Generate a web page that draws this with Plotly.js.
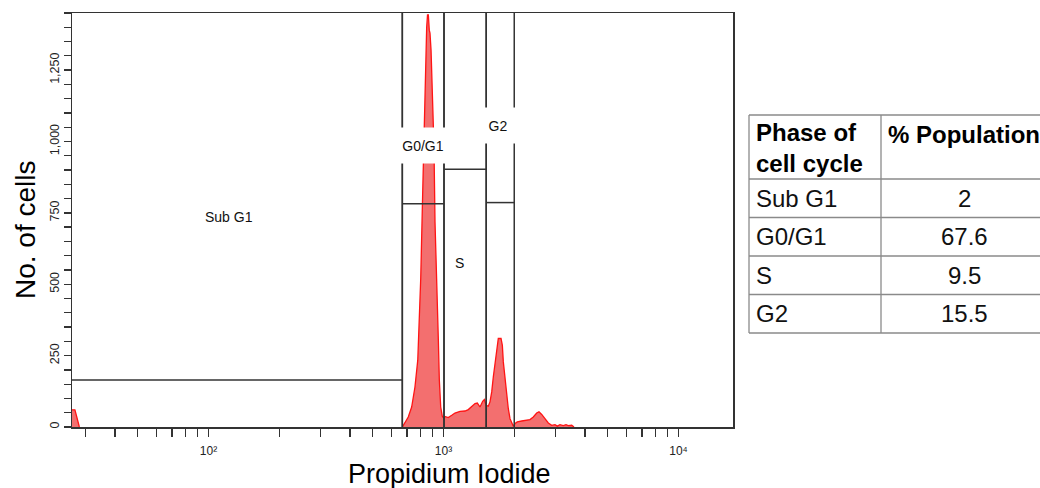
<!DOCTYPE html>
<html>
<head>
<meta charset="utf-8">
<script src="https://cdn.plot.ly/plotly-3.0.1.min.js"></script>
<style>html,body{margin:0;padding:0;background:#fff;}#chart{width:1040px;height:488px;}</style>
</head>
<body>
<div id="chart"></div>
<script>
// ---- Histogram data (Propidium Iodide intensity vs. number of cells) ----
// debris at the far left (sub G1 region)
const debrisIntensity = [26.0, 27.0, 27.5, 27.9, 28.2];
const debrisCounts    = [60, 60, 35, 13, 0];
// main cell population
const piIntensity = [668, 686, 708, 732, 756, 777, 787, 800, 816, 820, 828, 840, 848, 855, 862, 870, 876, 885, 891, 896, 905, 911, 920, 929, 936, 950, 960, 973, 988, 1005,
  1015, 1048, 1084, 1119, 1176, 1235, 1275, 1318, 1362, 1393, 1430, 1468, 1492, 1517, 1551, 1577, 1604, 1629, 1657, 1685, 1711, 1757, 1780, 1797, 1827, 1858, 1887, 1919, 1951, 1982,
  2016, 2061, 2152, 2259, 2334, 2411, 2492, 2549, 2618, 2703, 2793, 2887, 2982, 3050, 3131, 3234, 3321, 3397, 3512, 3592];
const cellCounts = [0, 17, 35, 70, 140, 234, 339, 520, 829, 900, 1092, 1320, 1400, 1443, 1443, 1390, 1380, 1320, 1239, 1227, 1064, 980, 720, 560, 468, 315, 164, 70, 38, 30,
  37, 33, 41, 49, 55, 56, 61, 70, 82, 84, 70, 90, 96, 76, 73, 88, 123, 175, 222, 280, 310, 310, 286, 228, 164, 105, 64, 29, 12, 3,
  12, 18, 21, 23, 26, 35, 49, 53, 44, 29, 14, 6, 8, 3, 8, 5, 8, 5, 6, 0];

// ---- Gates ----
const gateNames  = ['Sub G1', 'G0/G1', 'S', 'G2'];
const gateLow    = [20, 668, 1005, 1520];
const gateHigh   = [668, 1005, 1520, 2000];
const gateLevel  = [165, 782, 903, 786];
const gateLabelX = [122, 818, 1170, 1700];
const gateLabelY = [736, 985, 574, 1055];
const gateLabelBox = [null, [54, 35], null, [40, 35]];

// ---- Axis ticks ----
const yMajorValues = [0, 250, 500, 750, 1000, 1250];
const yMajorLabels = ['0', '250', '500', '750', '1,000', '1,250'];
const xMajorValues = [100, 1000, 10000];
const xMajorLabels = ['10\u00B2', '10\u00B3', '10\u2074'];
const yMax = 1450;
const xRangeLog = [1.419, 4.232];

// ---- Table ----
const tableHeaders = ['Phase of<br>cell cycle', '% Population'];
const phaseNames = ['Sub G1', 'G0/G1', 'S', 'G2'];
const phasePercents = ['2', '67.6', '9.5', '15.5'];

// ---- minor ticks (unlabelled) ----
const yMinorVals = [];
for (let v = 0; v <= yMax; v += 50) if (yMajorValues.indexOf(v) < 0) yMinorVals.push(v);
const xMinorVals = [];
for (let e = 1; e <= 4; e++) {
  for (let m = 2; m <= 9; m++) {
    const v = m * Math.pow(10, e);
    if (v < 17000) xMinorVals.push(v);
  }
}

// ---- gate line segments ----
const gx = [], gy = [];
gateNames.forEach((n, i) => {
  gx.push(gateLow[i], gateLow[i], null, gateHigh[i], gateHigh[i], null, gateLow[i], gateHigh[i], null);
  gy.push(0, yMax, null, 0, yMax, null, gateLevel[i], gateLevel[i], null);
});

const W = 1040, H = 488;
const px = v => v / W, py = v => 1 - v / H;
const font = 'Liberation Sans, Arial, sans-serif';

const histStyle = {
  type: 'scatter', mode: 'lines', fill: 'tozeroy', fillcolor: 'rgba(240,70,70,0.78)',
  line: {color: 'rgb(255,20,20)', width: 1.3}, hoverinfo: 'x+y', showlegend: false
};
const traces = [
  Object.assign({}, histStyle, {x: debrisIntensity, y: debrisCounts}),
  Object.assign({}, histStyle, {x: piIntensity, y: cellCounts}),
  {
    type: 'scatter', mode: 'lines', x: gx, y: gy,
    line: {color: '#333', width: 1.5}, hoverinfo: 'skip', showlegend: false
  }
];

const annotations = [];
gateNames.forEach((n, i) => {
  const a = {
    xref: 'x', yref: 'y', x: Math.log10(gateLabelX[i]), y: gateLabelY[i],
    text: n, showarrow: false, font: {family: font, size: 14, color: '#111'},
    xanchor: 'center', yanchor: 'middle'
  };
  if (gateLabelBox[i]) {
    a.bgcolor = '#fff'; a.width = gateLabelBox[i][0]; a.height = gateLabelBox[i][1]; a.borderpad = 0;
  }
  annotations.push(a);
});

// axis titles
annotations.push({xref: 'paper', yref: 'paper', x: px(25), y: py(230), text: 'No. of cells', textangle: -90,
  showarrow: false, font: {family: font, size: 28, color: '#000'}, xanchor: 'center', yanchor: 'middle'});
annotations.push({xref: 'paper', yref: 'paper', x: px(449), y: py(474), text: 'Propidium Iodide',
  showarrow: false, font: {family: font, size: 27, color: '#000'}, xanchor: 'center', yanchor: 'middle'});

// table
const tLeft = 749, tDiv = 881, tRight = 1050, tTop = 115, tHeadBottom = 179, rowH = 38.5;
const shapes = [];
const lineStyle = {color: '#8a8a8a', width: 1.3};
const hLines = [tTop, tHeadBottom];
phaseNames.forEach((n, i) => hLines.push(tHeadBottom + rowH * (i + 1)));
const tBottom = hLines[hLines.length - 1];
hLines.forEach(yv => shapes.push({type: 'line', xref: 'paper', yref: 'paper', x0: px(tLeft), x1: px(tRight), y0: py(yv), y1: py(yv), line: lineStyle}));
[tLeft, tDiv].forEach(xv => shapes.push({type: 'line', xref: 'paper', yref: 'paper', x0: px(xv), x1: px(xv), y0: py(tTop), y1: py(tBottom), line: lineStyle}));

const tFont = 24;
annotations.push({xref: 'paper', yref: 'paper', x: px(tLeft + 5), y: py(148), text: '<b>' + tableHeaders[0] + '</b>',
  showarrow: false, align: 'left', xanchor: 'left', yanchor: 'middle', font: {family: font, size: tFont, color: '#000'}});
annotations.push({xref: 'paper', yref: 'paper', x: px(tDiv + 5), y: py(134), text: '<b>' + tableHeaders[1] + '</b>',
  showarrow: false, align: 'left', xanchor: 'left', yanchor: 'middle', font: {family: font, size: tFont, color: '#000'}});
phaseNames.forEach((n, i) => {
  const yc = tHeadBottom + rowH * (i + 0.5);
  annotations.push({xref: 'paper', yref: 'paper', x: px(tLeft + 5), y: py(yc), text: n,
    showarrow: false, xanchor: 'left', yanchor: 'middle', font: {family: font, size: tFont, color: '#111'}});
  annotations.push({xref: 'paper', yref: 'paper', x: px(964), y: py(yc), text: phasePercents[i],
    showarrow: false, xanchor: 'center', yanchor: 'middle', font: {family: font, size: tFont, color: '#111'}});
});

const layout = {
  width: W, height: H,
  margin: {l: 0, r: 0, t: 0, b: 0},
  paper_bgcolor: '#fff', plot_bgcolor: '#fff',
  showlegend: false,
  xaxis: {
    type: 'log', range: xRangeLog, domain: [px(72), px(733)],
    showline: true, mirror: true, linecolor: '#333', linewidth: 1.5,
    ticks: 'outside', ticklen: 8, tickwidth: 1.3, tickcolor: '#333',
    tickmode: 'array', tickvals: xMajorValues, ticktext: xMajorLabels,
    minor: {tickmode: 'array', tickvals: xMinorVals, ticks: 'outside', ticklen: 8, tickwidth: 1.3, tickcolor: '#333', showgrid: false},
    tickfont: {family: font, size: 12, color: '#222'}, ticklabelstandoff: 4,
    showgrid: false, zeroline: false
  },
  yaxis: {
    range: [0, yMax], domain: [py(427), py(13)],
    showline: true, mirror: true, linecolor: '#333', linewidth: 1.5,
    ticks: 'outside', ticklen: 7, tickwidth: 1.3, tickcolor: '#333',
    tickmode: 'array', tickvals: yMajorValues, ticktext: yMajorLabels, tickangle: -90,
    minor: {tickmode: 'array', tickvals: yMinorVals, ticks: 'outside', ticklen: 7, tickwidth: 1.3, tickcolor: '#333', showgrid: false},
    tickfont: {family: font, size: 12.5, color: '#222'},
    showgrid: false, zeroline: false
  },
  shapes: shapes,
  annotations: annotations
};

Plotly.newPlot('chart', traces, layout, {displayModeBar: false, staticPlot: true});
</script>
</body>
</html>
